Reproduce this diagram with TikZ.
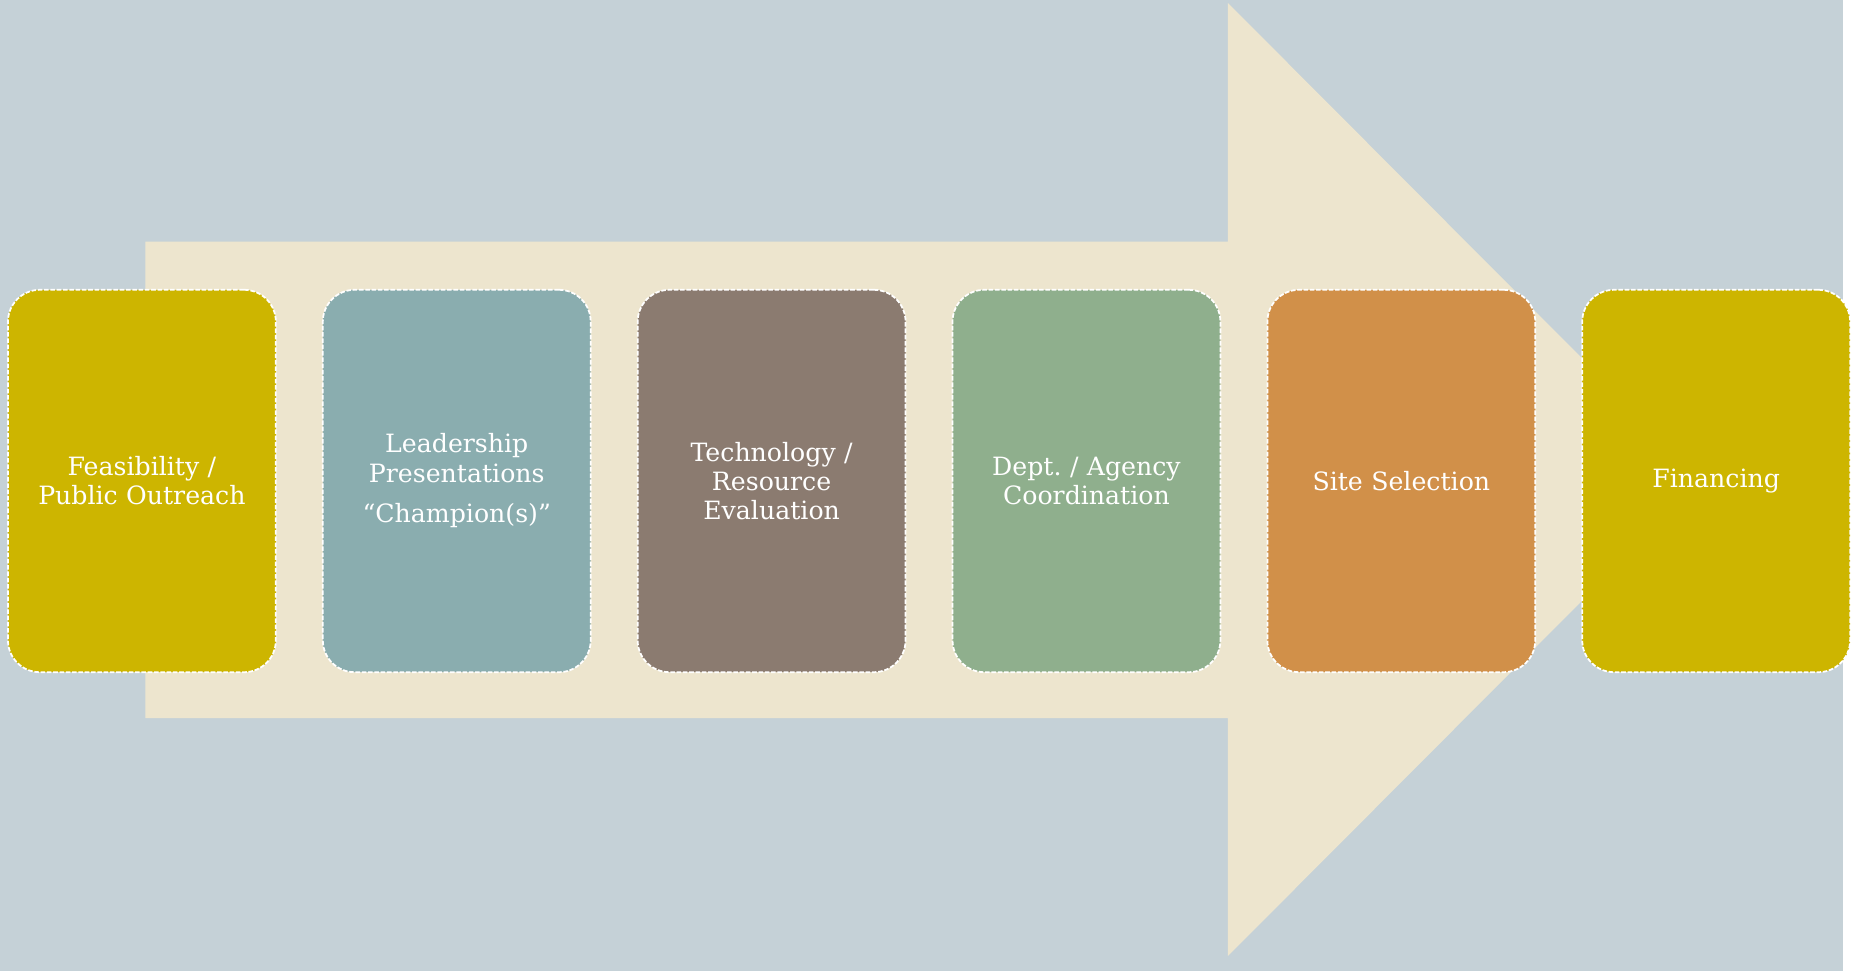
\documentclass[tikz,border=0pt]{standalone}
\usepackage{fontspec}
\newfontfamily\stagefont{DejaVu Serif}
\usetikzlibrary{positioning}
\definecolor{bgcol}{HTML}{C5D1D7}
\definecolor{arrowcol}{HTML}{EDE5CE}
\definecolor{olive}{HTML}{CDB500}
\definecolor{teal}{HTML}{8AADAF}
\definecolor{taupe}{HTML}{8B7B70}
\definecolor{sage}{HTML}{8FAF8D}
\definecolor{ochre}{HTML}{D19049}
\tikzset{
  stage/.style={rectangle,rounded corners=0.32cm,draw=white,line width=0.5pt,
    dash pattern=on 1.3pt off 0.5pt,minimum width=2.69cm,minimum height=3.84cm,
    text width=2.5cm,align=center,text=white,inner sep=0pt,
    font=\stagefont\fontsize{7.2}{8.3}\selectfont}
}
\frenchspacing
\begin{document}
\begin{tikzpicture}
\fill[bgcol] (0,0) rectangle (18.51,9.75);
\fill[arrowcol] (1.459,7.323) -- (12.33,7.323) -- (12.33,9.72) -- (17.10,4.935)
  -- (12.33,0.15) -- (12.33,2.54) -- (1.459,2.54) -- cycle;

\node[stage,fill=olive] (S1) at (1.425,4.92) {Feasibility /\\Public Outreach};
\node[stage,fill=teal,right=0.454cm of S1] (S2) {Leadership\\Presentations\\[3.4pt]\textquotedblleft Champion(s)\textquotedblright};
\node[stage,fill=taupe,right=0.454cm of S2] (S3) {Technology /\\Resource\\Evaluation};
\node[stage,fill=sage,right=0.454cm of S3] (S4) {Dept. / Agency\\Coordination};
\node[stage,fill=ochre,right=0.454cm of S4] (S5) {Site Selection};
\node[stage,fill=olive,right=0.454cm of S5] (S6) {Financing};

\end{tikzpicture}
\end{document}
